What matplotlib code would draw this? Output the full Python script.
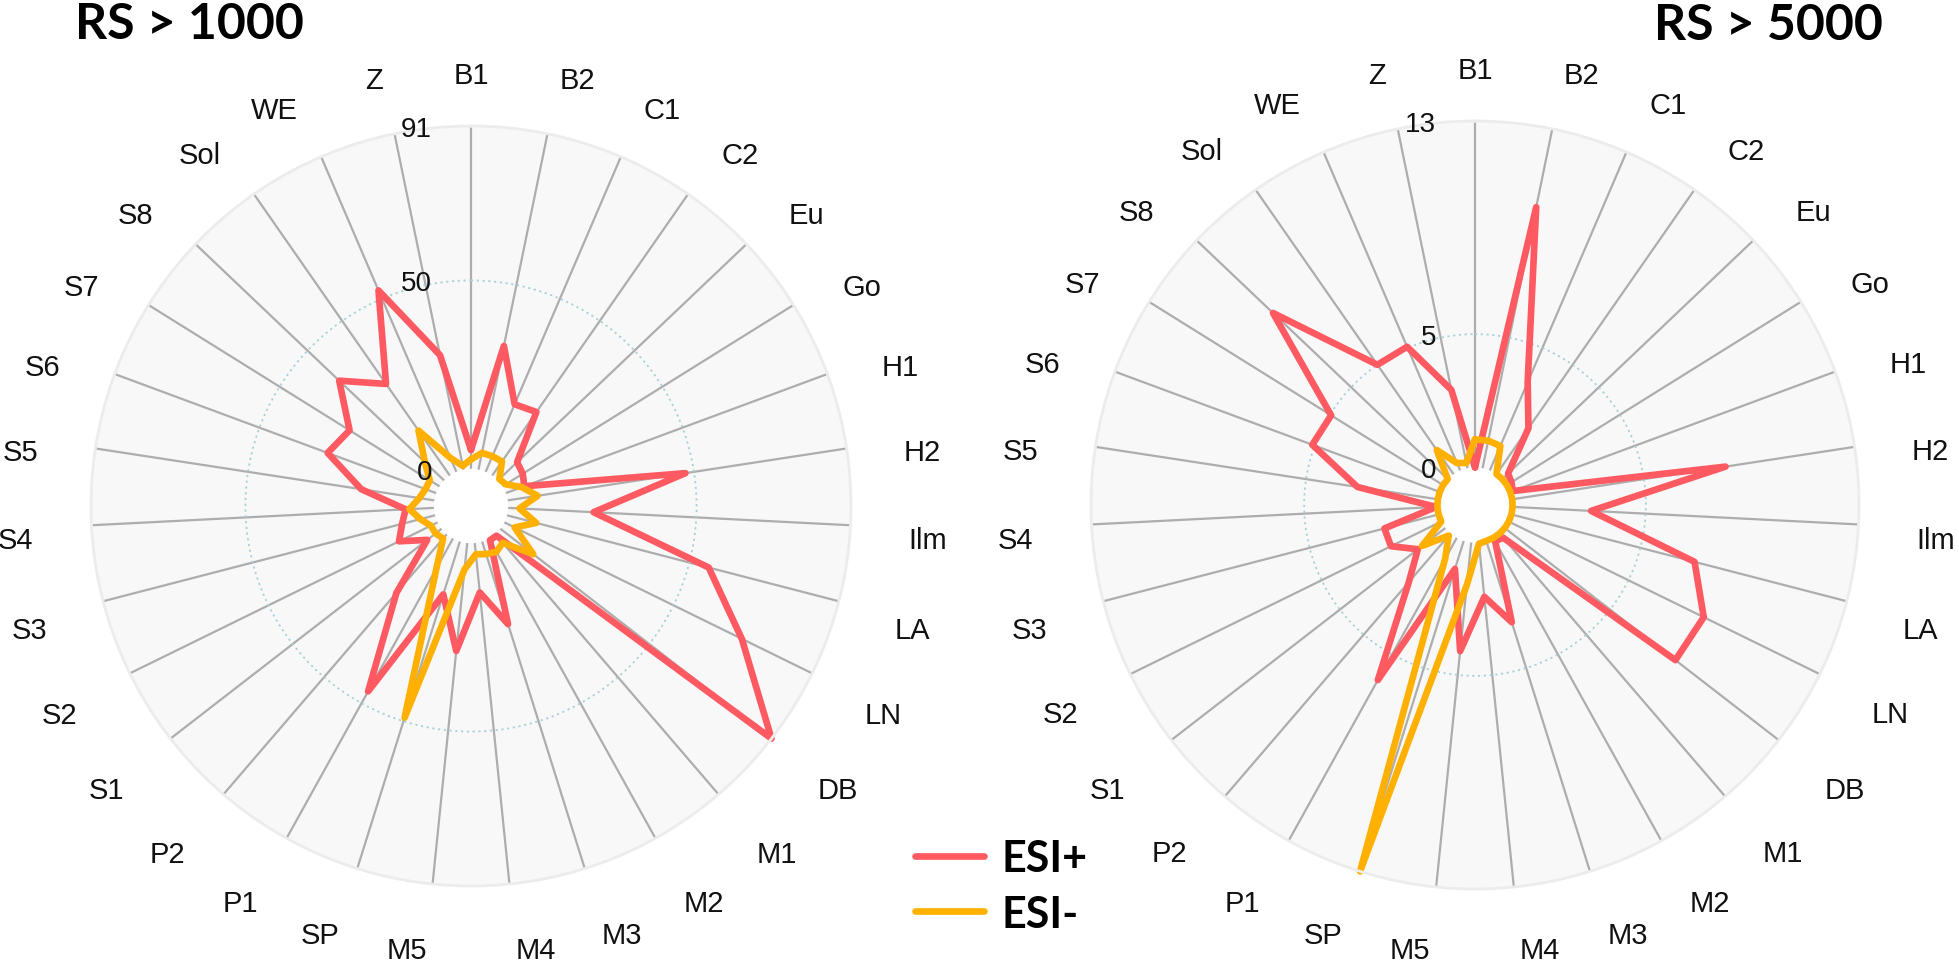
import numpy as np
import matplotlib
matplotlib.use("Agg")
import matplotlib.pyplot as plt
from matplotlib import transforms

categories = ['B1', 'B2', 'C1', 'C2', 'Eu', 'Go', 'H1', 'H2', 'Ilm', 'LA', 'LN', 'DB',
              'M1', 'M2', 'M3', 'M4', 'M5', 'SP', 'P1', 'P2', 'S1', 'S2', 'S3', 'S4',
              'S5', 'S6', 'S7', 'S8', 'Sol', 'WE', 'Z']

# RS > 1000
esi_pos_1000 = [5, 33.5, 19.5, 20.5, 7, 6.3, 5.2, 47.7, 22.7, 55.3, 70.2, 91,
                0.5, 0.5, 23, 13.2, 28.8, 14.7, 46.4, 20.5, 4.8, 11.4, 9, 7.5,
                19.6, 30.7, 28.1, 38.4, 29.6, 52.4, 31]
esi_neg_1000 = [2.5, 4.5, 4.5, 4.5, 0.5, 1, 4.5, 8, 3, 8, 3, 11,
                3, 4, 3.5, 3, 7, 49, 9, 1.5, 2, 2, 4, 6.5,
                4, 3, 3, 7, 14.5, 4, 1]
rticks_1000 = [0, 50, 91]

# RS > 5000
esi_pos_5000 = [0, 10, 3.6, 2.1, 0.3, 0.2, 0.1, 8.1, 2.95, 7.1, 8.15, 8.1,
                0.2, 0.15, 3.2, 2.05, 4.1, 1.1, 6.1, 2.4, 1.3, 2.1, 2.1, 0.05,
                3.05, 5.1, 4.95, 9.05, 5.0, 5.05, 3.0]
esi_neg_5000 = [1.05, 1.05, 1.0, 0, 0, 0, 0, 0, 0, 0, 0, 0,
                0, 0, 0, 0.05, 1.6, 13, 0.9, 0.1, 1.1, 0, 0, 0,
                0, 0, 0, 0, 1.1, 0.3, 0.2]
rticks_5000 = [0, 5, 13]

titles = ['RS > 1000', 'RS > 5000']
series_names = ['ESI+', 'ESI-']

RED = '#FF5A62'
YEL = '#FFB000'

W, H = 1959, 962
fig = plt.figure(figsize=(W / 100, H / 100), dpi=100)

HOLE = 0.098
FS = 21


def make_polar(cx, cy, R, pos, neg, rticks):
    ax = fig.add_axes([(cx - R) / W, (H - cy - R) / H, 2 * R / W, 2 * R / H],
                      projection='polar')
    n = len(categories)
    ang = np.arange(n) * 2 * np.pi / n
    rmax = rticks[-1]
    ax.set_theta_zero_location('N')
    ax.set_theta_direction(-1)
    ax.set_ylim(0, rmax)
    ax.set_rorigin(-HOLE * rmax / (1 - HOLE))
    ax.set_facecolor('#f8f8f8')
    ax.set_xticks(ang)
    ax.set_xticklabels([])
    ax.set_yticks([rticks[1]])
    ax.set_yticklabels([])
    ax.tick_params(length=0)
    ax.xaxis.grid(True, color='#adadad', lw=1.6)
    ax.yaxis.grid(True, color='#a9d0d8', lw=1.3, ls=(0, (1.2, 2.0)))
    ax.spines['polar'].set_color('#ececec')
    ax.spines['polar'].set_linewidth(2)
    ax.spines['inner'].set_color('none')
    ax.spines['inner'].set_linewidth(0)

    a_closed = np.append(ang, ang[0])
    l1, = ax.plot(a_closed, list(pos) + [pos[0]], color=RED, lw=4.8,
                  solid_joinstyle='round', solid_capstyle='round', clip_on=False)
    l2, = ax.plot(a_closed, list(neg) + [neg[0]], color=YEL, lw=4.8,
                  solid_joinstyle='round', solid_capstyle='round', clip_on=False)

    # radial tick labels, left of the vertical radial axis
    off = transforms.offset_copy(ax.transData, fig=fig, x=-39, y=0, units='dots')
    for v in rticks:
        ax.text(0, v, str(v), transform=off, ha='right', va='center_baseline',
                fontsize=20, family='Liberation Sans', color='#111111')

    # category labels (edge-anchored around the circle)
    dR = R - 380
    px, p_top, p_up, p_low, fs_px = 438 + dR, 423 + dR, 431 + dR, 452 - (cy - 507), 28.0
    for th, lab in zip(ang, categories):
        rad = np.pi / 2 - th
        c, s = np.cos(rad), np.sin(rad)
        ha = 'left' if c > 0.02 else ('right' if c < -0.02 else 'center')
        dx = px * c
        if s > 0:
            pad = p_top if ha == 'center' else p_up
        else:
            pad = p_low
        dy = s * pad - abs(c) * fs_px * 0.7
        tr = transforms.offset_copy(ax.transAxes, fig=fig, x=dx, y=dy, units='dots')
        ax.text(0.5, 0.5, lab, transform=tr, ha=ha, va='baseline',
                fontsize=FS, family='Liberation Sans', color='#111111',
                clip_on=False)
    return ax, l1, l2


ax1, h1, h2 = make_polar(471, 507, 380, esi_pos_1000, esi_neg_1000, rticks_1000)
ax2, _, _ = make_polar(1475, 506, 384, esi_pos_5000, esi_neg_5000, rticks_5000)

fig.text(75 / W, 1 - 39 / H, titles[0], fontsize=36, fontweight='bold',
         family='Lato', ha='left', va='baseline')
fig.text(1883 / W, 1 - 40 / H, titles[1], fontsize=36, fontweight='bold',
         family='Lato', ha='right', va='baseline')

leg = fig.legend([h1, h2], series_names, loc='center left',
                 bbox_to_anchor=(915 / W, 1 - 887 / H), frameon=False,
                 borderpad=0, borderaxespad=0, handlelength=1.6,
                 handletextpad=0.4, labelspacing=0.35,
                 prop={'family': 'Lato', 'weight': 'bold', 'size': 31})

fig.savefig('out.png', dpi=100, facecolor='white')
